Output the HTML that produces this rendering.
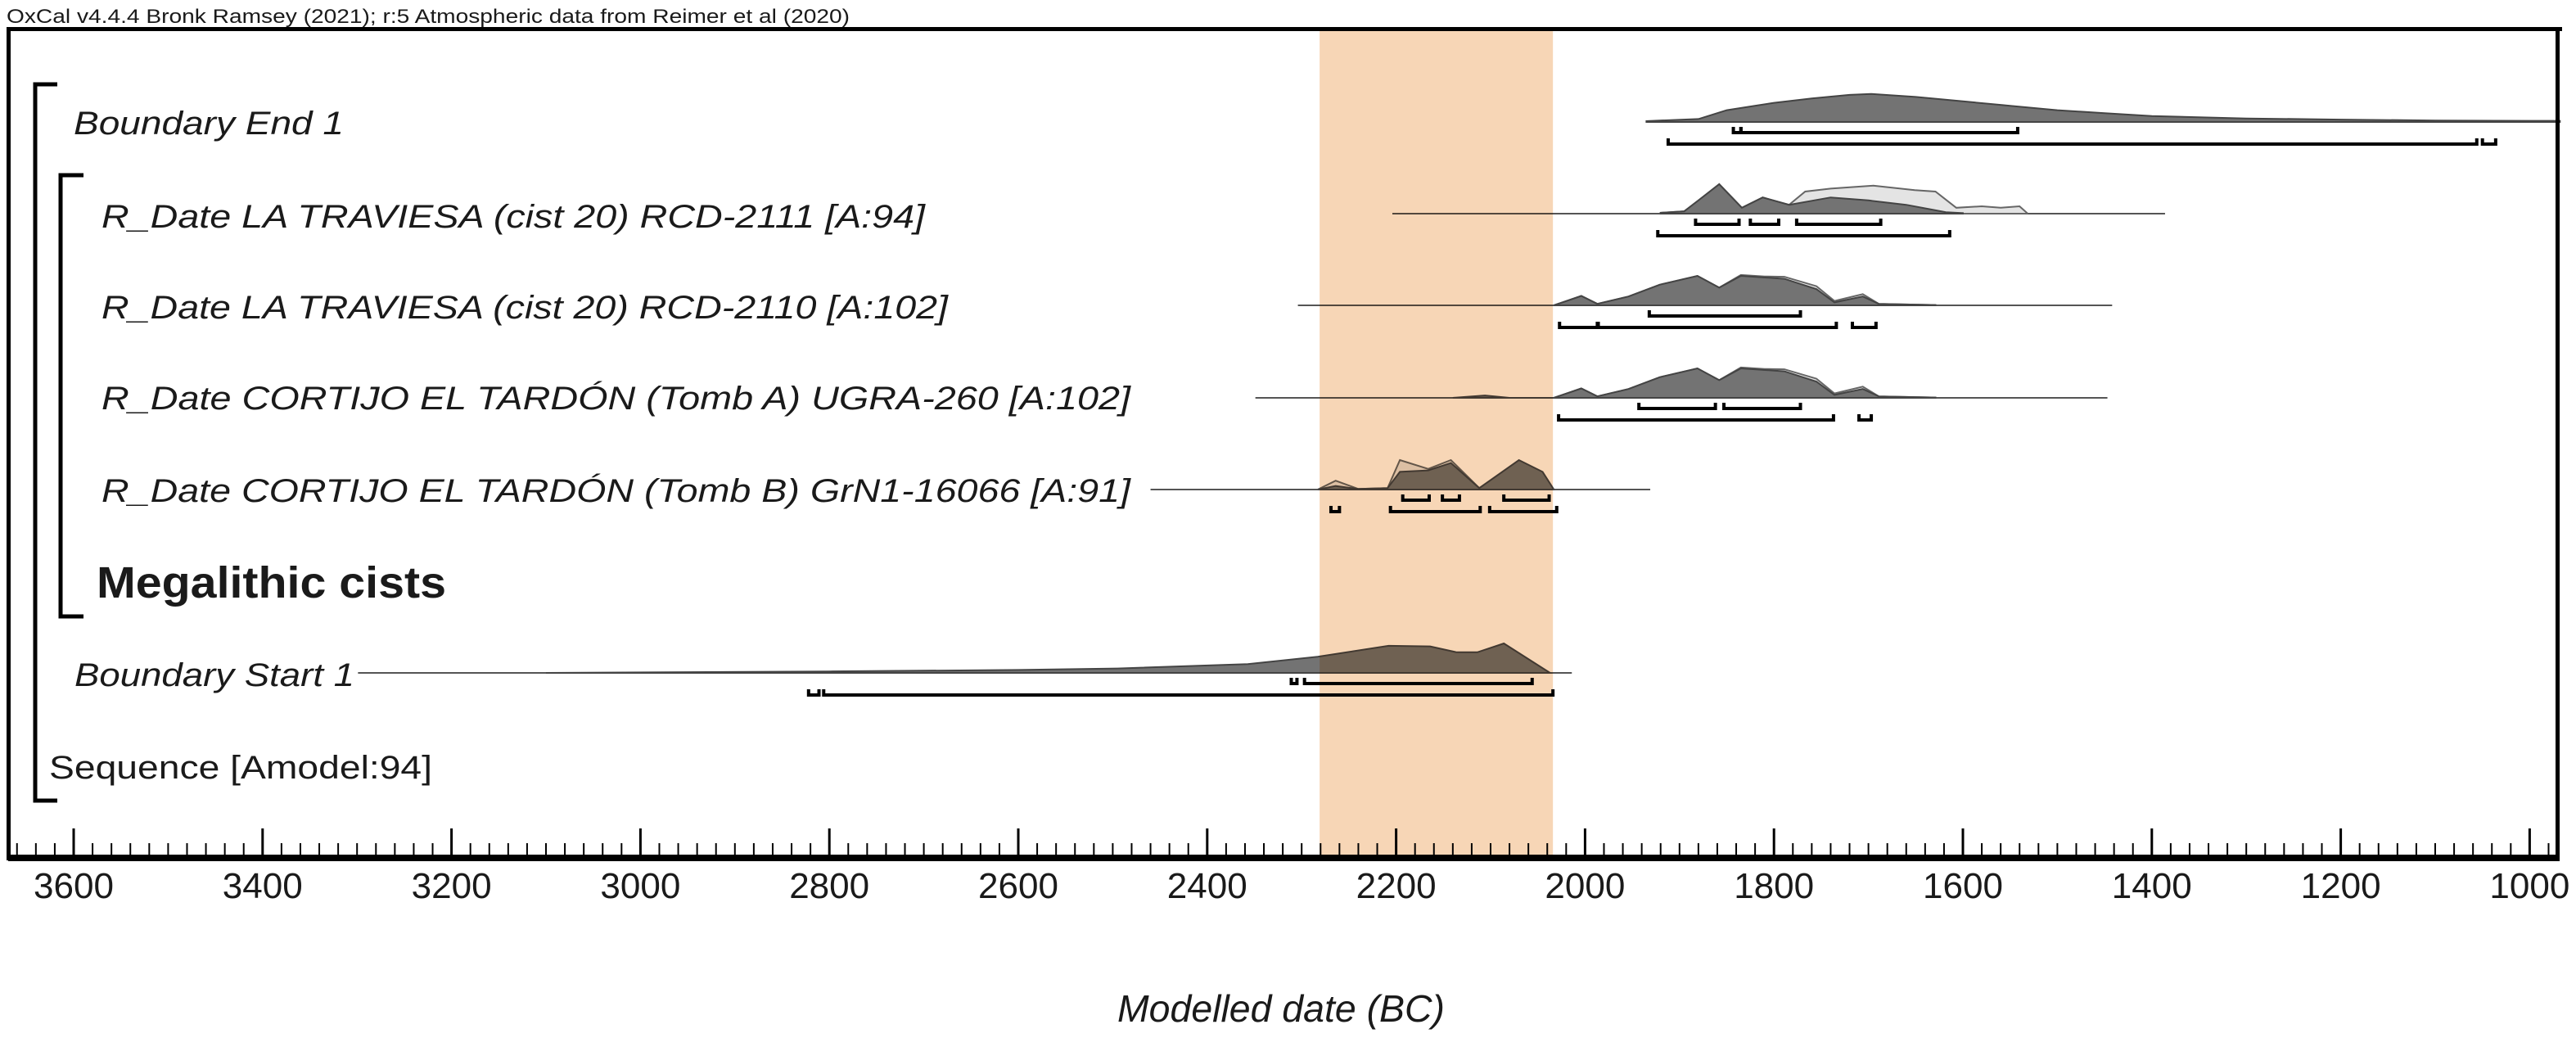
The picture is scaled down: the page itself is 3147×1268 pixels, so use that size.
<!DOCTYPE html>
<html><head><meta charset="utf-8"><style>
html,body{margin:0;padding:0;background:#fff;}
svg{display:block;}
text{font-family:"Liberation Sans",Arial,sans-serif;fill:#1a1a1a;}
</style></head><body>
<svg id="chart" width="3147" height="1268" viewBox="0 0 3147 1268" xmlns="http://www.w3.org/2000/svg">
<text x="8" y="28" font-size="24" textLength="1030" lengthAdjust="spacingAndGlyphs">OxCal v4.4.4 Bronk Ramsey (2021); r:5 Atmospheric data from Reimer et al (2020)</text>
<g id="dists"></g>
<g id="bars"></g>
<g id="axis"></g>
<rect id="band" fill="#f7d6b6" style="mix-blend-mode:multiply"></rect>
<rect x="8" y="33" width="3122" height="5" fill="#000"/>
<rect x="8" y="33" width="5" height="1018" fill="#000"/>
<rect x="3122" y="33" width="5" height="1018" fill="#000"/>
<path d="M70 103 H43 V978 H70" fill="none" stroke="#000" stroke-width="5"/>
<path d="M102 214 H74 V753 H102" fill="none" stroke="#000" stroke-width="5"/>
<g font-style="italic" font-size="40">
<text x="90" y="164" textLength="330" lengthAdjust="spacingAndGlyphs">Boundary End 1</text>
<text x="124" y="278" textLength="1006" lengthAdjust="spacingAndGlyphs">R_Date LA TRAVIESA (cist 20) RCD-2111 [A:94]</text>
<text x="124" y="389" textLength="1034" lengthAdjust="spacingAndGlyphs">R_Date LA TRAVIESA (cist 20) RCD-2110 [A:102]</text>
<text x="124" y="500" textLength="1257" lengthAdjust="spacingAndGlyphs">R_Date CORTIJO EL TARDÓN (Tomb A) UGRA-260 [A:102]</text>
<text x="124" y="613" textLength="1257" lengthAdjust="spacingAndGlyphs">R_Date CORTIJO EL TARDÓN (Tomb B) GrN1-16066 [A:91]</text>
<text x="91" y="838" textLength="342" lengthAdjust="spacingAndGlyphs">Boundary Start 1</text>
</g>
<text x="118" y="730" font-size="54" font-weight="bold" textLength="427" lengthAdjust="spacingAndGlyphs">Megalithic cists</text>
<text x="60" y="951" font-size="40" textLength="468" lengthAdjust="spacingAndGlyphs">Sequence [Amodel:94]</text>
<text x="1565" y="1248" font-size="46" font-style="italic" text-anchor="middle" textLength="400" lengthAdjust="spacingAndGlyphs">Modelled date (BC)</text>
</svg>
<script>
// axis
const tickMajor = [3600,3400,3200,3000,2800,2600,2400,2200,2000,1800,1600,1400,1200,1000];
const axisMin = 3670, axisMax = 965;
const band = [2281, 2034];
// distributions: baselines rows
const rowNames = ['boundary-end','rcd-2111','rcd-2110','ugra-260','grn-16066','boundary-start'];
const rowY = [149, 261, 373, 486, 598, 822];
const lineSpan = [[1935,968],[2204,1386],[2304,1442],[2349,1447],[2460,1931],[3299,2014]];
// posterior
const postYears0 = [1935,1880,1850,1800,1760,1720,1697,1650,1600,1550,1500,1450,1400,1300,1200,1100,1000,968];
const postVals0  = [0.03,0.1,0.4,0.65,0.8,0.92,0.95,0.85,0.7,0.55,0.4,0.3,0.2,0.12,0.08,0.05,0.04,0.04];
const postYears1 = [1920,1895,1878,1858,1834,1812,1784,1740,1700,1660,1618,1600];
const postVals1  = [0.03,0.08,0.5,1.0,0.2,0.55,0.3,0.55,0.45,0.3,0.05,0.02];
const priorYears1 = [1920,1895,1878,1858,1834,1812,1784,1767,1740,1695,1651,1629,1607,1580,1560,1540,1532];
const priorVals1  = [0.03,0.08,0.5,1.0,0.2,0.55,0.3,0.75,0.85,0.95,0.8,0.75,0.2,0.25,0.2,0.25,0.02];
const postYears2 = [2033,2004,1987,1954,1921,1881,1858,1835,1789,1755,1736,1706,1689,1629];
const postVals2  = [0,0.32,0.05,0.3,0.7,1.0,0.6,1.0,0.9,0.55,0.1,0.3,0.05,0.01];
const priorYears2 = [2033,2004,1987,1954,1921,1881,1858,1835,1810,1789,1755,1736,1706,1689,1629];
const priorVals2  = [0,0.32,0.05,0.3,0.7,1.0,0.6,1.03,0.98,0.97,0.65,0.15,0.38,0.05,0.01];
const postYears3 = [2140,2106,2080,2033,2004,1987,1954,1921,1881,1858,1835,1789,1755,1736,1706,1689,1629];
const postVals3  = [0,0.08,0,0,0.32,0.05,0.3,0.7,1.0,0.6,1.0,0.9,0.55,0.1,0.3,0.05,0.01];
const priorYears3 = [2033,2004,1987,1954,1921,1881,1858,1835,1810,1789,1755,1736,1706,1689,1629];
const priorVals3  = [0,0.32,0.05,0.3,0.7,1.0,0.6,1.03,0.98,0.97,0.65,0.15,0.38,0.05,0.01];
const postYears4 = [2283,2264,2240,2209,2196,2166,2142,2112,2070,2045,2033];
const postVals4  = [0,0.12,0.02,0.05,0.6,0.65,0.9,0.05,1.0,0.6,0];
const priorYears4 = [2283,2264,2240,2209,2196,2166,2142,2112,2070,2045,2033];
const priorVals4  = [0,0.3,0.02,0.05,1.0,0.7,1.0,0.05,0.75,0.45,0];
const postYears5 = [3100,2800,2600,2495,2357,2283,2208,2164,2136,2114,2086,2037];
const postVals5  = [0.0,0.05,0.1,0.15,0.3,0.55,0.92,0.9,0.7,0.7,1.0,0];
// ranges
const r68 = [[[1843,1835],[1835,1542]],[[1883,1837],[1825,1795],[1776,1687]],[[1932,1772]],[[1943,1862],[1853,1772]],[[2193,2165],[2151,2133],[2086,2038]],[[2311,2305],[2297,2056]]];
const r95 = [[[1912,1056],[1050,1036]],[[1923,1614]],[[2027,1987],[1986,1734],[1717,1692]],[[2028,1737],[1710,1697]],[[2269,2260],[2206,2111],[2101,2030]],[[2822,2811],[2806,2034]]];

const NS='http://www.w3.org/2000/svg';
const X = y => 90 + (3600 - y) * 1.154;
const H = 36;
function mk(tag, attrs, parent){const e=document.createElementNS(NS,tag);for(const k in attrs)e.setAttribute(k,attrs[k]);parent.appendChild(e);return e;}
const dists=document.getElementById('dists'), bars=document.getElementById('bars'), axis=document.getElementById('axis');
function area(years, vals, base, fill, stroke, name){
  let d='M'+X(years[0]).toFixed(1)+' '+base;
  years.forEach((yr,i)=>{d+=' L'+X(yr).toFixed(1)+' '+(base-vals[i]*H).toFixed(1);});
  d+=' L'+X(years[years.length-1]).toFixed(1)+' '+base+' Z';
  const p=mk('path',{d:d,fill:fill,stroke:stroke,'stroke-width':2},dists);
  
  
}
const posts=[[postYears0,postVals0],[postYears1,postVals1],[postYears2,postVals2],[postYears3,postVals3],[postYears4,postVals4],[postYears5,postVals5]];
const priors=[null,[priorYears1,priorVals1],[priorYears2,priorVals2],[priorYears3,priorVals3],[priorYears4,priorVals4],null];
rowY.forEach((base,i)=>{
  const l=mk('line',{x1:X(lineSpan[i][0]),x2:X(lineSpan[i][1]),y1:base,y2:base,stroke:'#555','stroke-width':2},dists);
  
  
  if(priors[i]) area(priors[i][0],priors[i][1],base,'#e4e4e4','#666',rowNames[i]+'-prior');
  area(posts[i][0],posts[i][1],base,'#737373','#444',rowNames[i]+'-posterior');
  [[r68[i],13],[r95[i],27]].forEach(([rs,off])=>{
    rs.forEach(r=>{
      const x1=X(r[0]),x2=X(r[1]),y=base+off;
      const p=mk('path',{d:`M${x1} ${y-7} V${y} H${x2} V${y-7}`,fill:'none',stroke:'#000','stroke-width':4},bars);
      
      
    });
  });
});
// axis
const ax=mk('rect',{x:10,y:1044,width:3117,height:8,fill:'#000'},axis);


for(let yr=3660; yr>=980; yr-=20){
  const major = yr%200===0;
  const t=mk('line',{x1:X(yr),x2:X(yr),y1:major?1012:1030,y2:1046,stroke:'#000','stroke-width':major?3:2},axis);
  
  
}
tickMajor.forEach(v=>{
  const t=mk('text',{x:X(v),y:1097,'font-size':44,'text-anchor':'middle',textLength:98,lengthAdjust:'spacingAndGlyphs'},axis);
  t.textContent=v;
  
  
});
const b=document.getElementById('band');
b.setAttribute('x',X(band[0]));b.setAttribute('width',X(band[1])-X(band[0]));
b.setAttribute('y',38);b.setAttribute('height',1008);
</script>
</body></html>
